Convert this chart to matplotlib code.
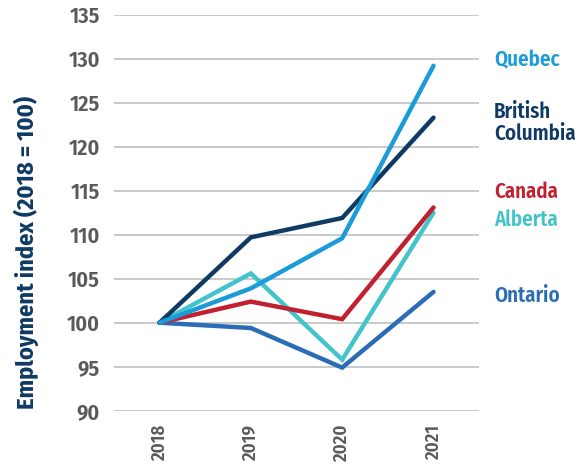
import matplotlib
matplotlib.use("Agg")
import matplotlib.pyplot as plt

# ------------------------------------------------------------
# DATA
# ------------------------------------------------------------
years = ["2018", "2019", "2020", "2021"]
regions = ["Quebec", "British\nColumbia", "Canada", "Alberta", "Ontario"]
quebec = [100, 103.9, 109.6, 129.2]
british_columbia = [100, 109.7, 111.9, 123.3]
canada = [100, 102.4, 100.4, 113.1]
alberta = [100, 105.6, 95.8, 112.5]
ontario = [100, 99.4, 94.9, 103.5]
yticks = [90, 95, 100, 105, 110, 115, 120, 125, 130, 135]

# ------------------------------------------------------------
# STYLE
# ------------------------------------------------------------
plt.rcParams['font.family'] = ['Fira Sans Condensed', 'DejaVu Sans']

colors = ["#1a9cd8", "#0f3a63", "#c1202f", "#43c3cb", "#2a6cb6"]
label_y = [129.85, 122.7, 114.85, 111.65, 103.0]
series = [quebec, british_columbia, canada, alberta, ontario]
draw_order = [3, 4, 2, 1, 0]
tick_gray = "#5a5a5a"

fig = plt.figure(figsize=(5.78, 4.68), dpi=100)
ax = fig.add_axes([0.197, 0.1224, 0.632, 0.8462])

x = list(range(len(years)))

for y in yticks:
    ax.axhline(y, color="#c9c9c9", lw=1.4, zorder=0)

for i in draw_order:
    ax.plot(x, series[i], color=colors[i], lw=3.2, solid_capstyle='round',
            solid_joinstyle='miter', clip_on=False, zorder=3)

for i, name in enumerate(regions):
    ax.text(3.66, label_y[i], name, color=colors[i], fontsize=15,
            fontweight=600, va='center', ha='left', linespacing=1.05)

ax.set_xlim(-0.5, 3.5)
ax.set_ylim(90, 135)
ax.set_yticks(yticks)
ax.set_yticklabels([str(v) for v in yticks], fontsize=16, color=tick_gray,
                   fontweight=600)
ax.set_xticks(x)
ax.set_xticklabels(years, rotation=90, fontsize=13.5, color=tick_gray,
                   fontweight=600)
ax.tick_params(length=0)
ax.tick_params(axis='y', pad=10)
ax.tick_params(axis='x', pad=10)

for s in ax.spines.values():
    s.set_visible(False)

ax.set_ylabel("Employment index (2018 = 100)", fontsize=17.5, color="#0f3a63",
              fontweight=700)
ax.yaxis.set_label_coords(-0.205, 0.40)

fig.savefig("out.png", dpi=100)
